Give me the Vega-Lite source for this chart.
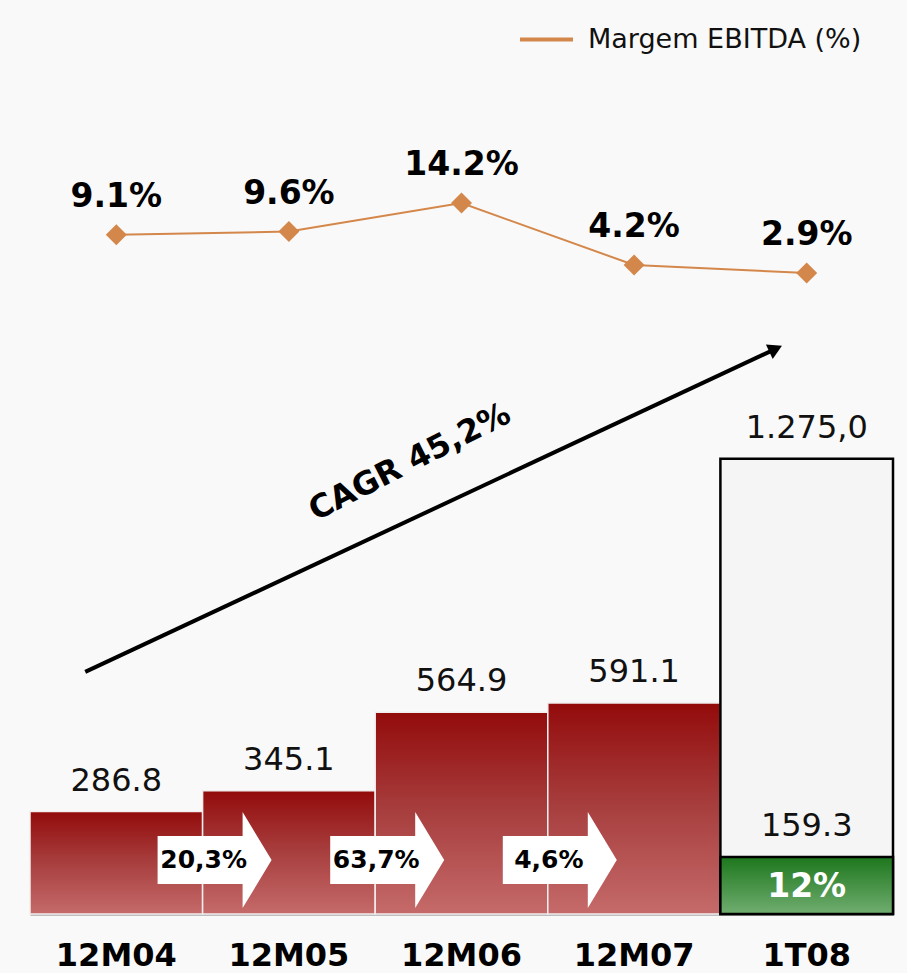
{
  "$schema": "https://vega.github.io/schema/vega-lite/v6.json",
  "width": 863,
  "height": 914,
  "padding": {"left": 30, "top": 0, "right": 14, "bottom": 59},
  "autosize": "none",
  "background": "#faf9f9",
  "config": {"view": {"stroke": null}, "font": "DejaVu Sans"},
  "datasets": {
    "bars": [
      {"cat": "12M04", "value": 286.8, "label": "286.8"},
      {"cat": "12M05", "value": 345.1, "label": "345.1"},
      {"cat": "12M06", "value": 564.9, "label": "564.9"},
      {"cat": "12M07", "value": 591.1, "label": "591.1"},
      {"cat": "1T08", "value": 1275.0, "label": "1.275,0"}
    ],
    "quarter": [
      {"cat": "1T08", "value": 159.3, "label": "159.3", "share": "12%"}
    ],
    "margin": [
      {"cat": "12M04", "m": 9.1, "label": "9.1%", "series": "Margem EBITDA (%)"},
      {"cat": "12M05", "m": 9.6, "label": "9.6%", "series": "Margem EBITDA (%)"},
      {"cat": "12M06", "m": 14.2, "label": "14.2%", "series": "Margem EBITDA (%)"},
      {"cat": "12M07", "m": 4.2, "label": "4.2%", "series": "Margem EBITDA (%)"},
      {"cat": "1T08", "m": 2.9, "label": "2.9%", "series": "Margem EBITDA (%)"}
    ],
    "growth": [
      {"cat": "12M05", "v": 151, "label": "20,3%"},
      {"cat": "12M06", "v": 151, "label": "63,7%"},
      {"cat": "12M07", "v": 151, "label": "4,6%"}
    ],
    "cagr": [
      {"cat": "12M04", "v": 678},
      {"cat": "1T08", "v": 1583}
    ],
    "cagrEnd": [
      {"cat": "1T08", "v": 1583}
    ],
    "cagrText": [
      {"cat": "12M06", "v": 1266, "label": "CAGR 45,2%"}
    ]
  },
  "encoding": {
    "x": {
      "field": "cat",
      "type": "nominal",
      "scale": {"domain": ["12M04", "12M05", "12M06", "12M07", "1T08"], "paddingInner": 0, "paddingOuter": 0},
      "axis": {
        "title": null,
        "labelAngle": 0,
        "labelFont": "DejaVu Sans",
        "labelFontSize": 32,
        "labelFontWeight": "bold",
        "labelColor": "#000000",
        "ticks": false,
        "tickSize": 0,
        "labelPadding": 26,
        "domainColor": "#aaaaaa",
        "domainWidth": 2.5,
        "grid": false
      }
    }
  },
  "layer": [
    {
      "data": {"name": "bars"},
      "transform": [{"filter": "datum.cat !== '1T08'"}],
      "mark": {
        "type": "bar",
        "width": {"band": 1},
        "stroke": "#f2eeee",
        "strokeWidth": 1.5,
        "color": {
          "gradient": "linear",
          "x1": 0, "y1": 0, "x2": 0, "y2": 1,
          "stops": [
            {"offset": 0, "color": "#930b0b"},
            {"offset": 0.5, "color": "#a83f3f"},
            {"offset": 1, "color": "#c56a6a"}
          ]
        }
      },
      "encoding": {
        "y": {"field": "value", "type": "quantitative", "scale": {"domain": [0, 2560]}, "axis": null}
      }
    },
    {
      "data": {"name": "bars"},
      "transform": [{"filter": "datum.cat === '1T08'"}],
      "mark": {"type": "bar", "width": {"band": 1}, "fill": "#f6f5f5", "stroke": "#000000", "strokeWidth": 2.5},
      "encoding": {
        "y": {"field": "value", "type": "quantitative", "scale": {"domain": [0, 2560]}, "axis": null}
      }
    },
    {
      "data": {"name": "quarter"},
      "mark": {
        "type": "bar",
        "width": {"band": 1},
        "stroke": "#000000",
        "strokeWidth": 2.5,
        "color": {
          "gradient": "linear",
          "x1": 0, "y1": 0, "x2": 0, "y2": 1,
          "stops": [
            {"offset": 0, "color": "#1d771d"},
            {"offset": 1, "color": "#70ad70"}
          ]
        }
      },
      "encoding": {
        "y": {"field": "value", "type": "quantitative", "scale": {"domain": [0, 2560]}, "axis": null}
      }
    },
    {
      "data": {"name": "bars"},
      "mark": {"type": "text", "font": "DejaVu Sans", "fontSize": 32, "color": "#111111", "baseline": "middle", "dy": -31},
      "encoding": {
        "y": {"field": "value", "type": "quantitative", "scale": {"domain": [0, 2560]}, "axis": null},
        "text": {"field": "label"}
      }
    },
    {
      "data": {"name": "quarter"},
      "mark": {"type": "text", "font": "DejaVu Sans", "fontSize": 32, "color": "#111111", "baseline": "middle", "dy": -31},
      "encoding": {
        "y": {"field": "value", "type": "quantitative", "scale": {"domain": [0, 2560]}, "axis": null},
        "text": {"field": "label"}
      }
    },
    {
      "data": {"name": "quarter"},
      "mark": {"type": "text", "font": "DejaVu Sans", "fontSize": 33, "fontWeight": "bold", "color": "#ffffff", "baseline": "middle", "dy": 30},
      "encoding": {
        "y": {"field": "value", "type": "quantitative", "scale": {"domain": [0, 2560]}, "axis": null},
        "text": {"field": "share"}
      }
    },
    {
      "data": {"name": "growth"},
      "mark": {
        "type": "point",
        "filled": true,
        "opacity": 1,
        "color": "#ffffff",
        "strokeWidth": 0,
        "size": 4,
        "shape": "M-45,-24L40,-24L40,-48L69,0L40,48L40,24L-45,24Z"
      },
      "encoding": {
        "x": {"field": "cat", "type": "nominal", "bandPosition": 0},
        "y": {"field": "v", "type": "quantitative", "scale": {"domain": [0, 2560]}, "axis": null}
      }
    },
    {
      "data": {"name": "growth"},
      "mark": {"type": "text", "font": "DejaVu Sans", "fontSize": 25, "fontWeight": "bold", "color": "#000000", "baseline": "middle", "dx": 1},
      "encoding": {
        "x": {"field": "cat", "type": "nominal", "bandPosition": 0},
        "y": {"field": "v", "type": "quantitative", "scale": {"domain": [0, 2560]}, "axis": null},
        "text": {"field": "label"}
      }
    },
    {
      "data": {"name": "cagr"},
      "mark": {"type": "line", "color": "#000000", "strokeWidth": 4},
      "encoding": {
        "x": {"field": "cat", "type": "nominal", "bandPosition": 0.32},
        "y": {"field": "v", "type": "quantitative", "scale": {"domain": [0, 2560]}, "axis": null}
      }
    },
    {
      "data": {"name": "cagrEnd"},
      "mark": {"type": "point", "shape": "triangle-right", "filled": true, "opacity": 1, "color": "#000000", "size": 260, "angle": 335},
      "encoding": {
        "x": {"field": "cat", "type": "nominal", "bandPosition": 0.32},
        "y": {"field": "v", "type": "quantitative", "scale": {"domain": [0, 2560]}, "axis": null}
      }
    },
    {
      "data": {"name": "cagrText"},
      "mark": {"type": "text", "font": "DejaVu Sans", "fontSize": 32, "fontWeight": "bold", "color": "#000000", "baseline": "middle", "angle": 333},
      "encoding": {
        "x": {"field": "cat", "type": "nominal", "bandPosition": 0.2},
        "y": {"field": "v", "type": "quantitative", "scale": {"domain": [0, 2560]}, "axis": null},
        "text": {"field": "label"}
      }
    },
    {
      "data": {"name": "margin"},
      "layer": [
        {
          "mark": {"type": "line", "strokeWidth": 2},
          "encoding": {
            "y": {"field": "m", "type": "quantitative", "scale": {"domain": [-100.6, 47]}, "axis": null},
            "color": {
              "field": "series",
              "type": "nominal",
              "scale": {"range": ["#d4874a"]},
              "legend": {
                "title": null,
                "orient": "none",
                "legendX": 488,
                "legendY": 11,
                "symbolType": "stroke",
                "symbolSize": 2809,
                "symbolStrokeWidth": 4,
                "labelFont": "DejaVu Sans",
                "labelFontSize": 27,
                "labelLimit": 0,
                "labelColor": "#111111",
                "labelOffset": 13
              }
            }
          }
        },
        {
          "mark": {"type": "point", "shape": "diamond", "filled": true, "opacity": 1, "color": "#d4874a", "size": 440},
          "encoding": {
            "y": {"field": "m", "type": "quantitative", "scale": {"domain": [-100.6, 47]}, "axis": null}
          }
        },
        {
          "mark": {"type": "text", "font": "DejaVu Sans", "fontSize": 33, "fontWeight": "bold", "color": "#000000", "baseline": "middle", "dy": -38},
          "encoding": {
            "y": {"field": "m", "type": "quantitative", "scale": {"domain": [-100.6, 47]}, "axis": null},
            "text": {"field": "label"}
          }
        }
      ]
    }
  ],
  "resolve": {"scale": {"y": "independent"}}
}
